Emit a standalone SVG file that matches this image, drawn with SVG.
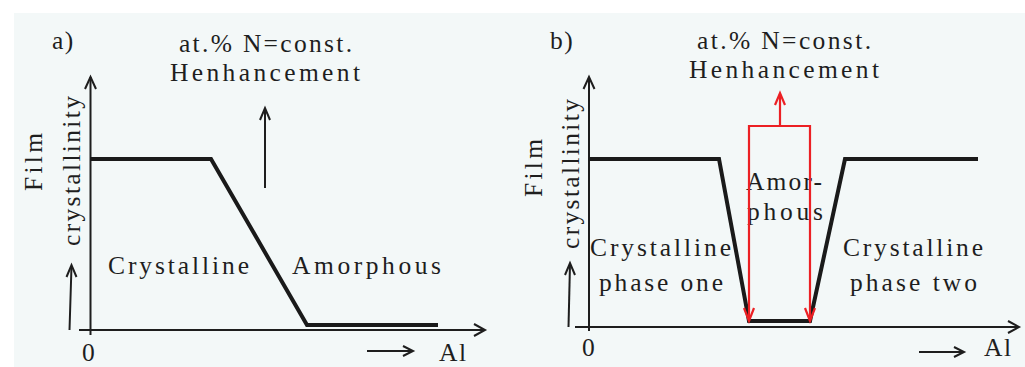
<svg xmlns="http://www.w3.org/2000/svg" width="1025" height="367" viewBox="0 0 1025 367">
<style>
text{font-family:'Liberation Serif','DejaVu Serif',serif;font-size:25.5px;fill:#1e1e1e}
.sp{letter-spacing:1.5px}
.ax{stroke:#1e1e1e;stroke-width:2;fill:none}
.cv{stroke:#1a1a1a;stroke-width:4;fill:none;stroke-linejoin:miter}
.rd{stroke:#ec2024;stroke-width:2.2;fill:none}
.hd{stroke:#1e1e1e;stroke-width:2;fill:none}
</style>
<rect x="0" y="0" width="1025" height="367" fill="#ffffff"/>
<rect x="14" y="13" width="1011" height="354" fill="#f3f8f8"/>

<g id="panel-a">
  <g id="a-label"><text class="sp" x="52" y="49">a)</text></g>
  <g id="a-title"><text x="179" y="52" textLength="173" lengthAdjust="spacing">at.% N=const.</text><text x="170" y="81" textLength="190" lengthAdjust="spacing">Henhancement</text></g>
  <g id="a-ylabel">
    <text transform="translate(42,162) rotate(-90)" text-anchor="middle" textLength="58" lengthAdjust="spacing">Film</text>
    <text transform="translate(80,171) rotate(-90)" text-anchor="middle" textLength="150" lengthAdjust="spacing">crystallinity</text>
  </g>
  <g id="a-crystalline"><text x="108" y="274" textLength="141" lengthAdjust="spacing">Crystalline</text></g>
  <g id="a-amorphous"><text x="292" y="274" textLength="149" lengthAdjust="spacing">Amorphous</text></g>
  <g id="a-zero"><text x="82" y="361">0</text></g>
  <g id="a-al"><text class="sp" x="439" y="361">Al</text></g>
</g>

<g id="panel-b">
  <g id="b-label"><text class="sp" x="550" y="49">b)</text></g>
  <g id="b-title"><text x="697" y="49" textLength="174" lengthAdjust="spacing">at.% N=const.</text><text x="689" y="78" textLength="190" lengthAdjust="spacing">Henhancement</text></g>
  <g id="b-ylabel">
    <text transform="translate(542,168) rotate(-90)" text-anchor="middle" textLength="58" lengthAdjust="spacing">Film</text>
    <text transform="translate(579,174) rotate(-90)" text-anchor="middle" textLength="150" lengthAdjust="spacing">crystallinity</text>
  </g>
  <g id="b-amorphous"><text x="746" y="190" textLength="76" lengthAdjust="spacing">Amor-</text><text x="747" y="220" textLength="76" lengthAdjust="spacing">phous</text></g>
  <g id="b-cryst-one"><text x="590" y="256" textLength="141" lengthAdjust="spacing">Crystalline</text><text x="599" y="291" textLength="124" lengthAdjust="spacing">phase one</text></g>
  <g id="b-cryst-two"><text x="843" y="256" textLength="140" lengthAdjust="spacing">Crystalline</text><text x="850" y="291" textLength="127" lengthAdjust="spacing">phase two</text></g>
  <g id="b-zero"><text x="582" y="356">0</text></g>
  <g id="b-al"><text class="sp" x="984" y="356">Al</text></g>
</g>

<g id="connectors">
  <path class="ax" d="M90.5 335 V77"/>
  <path class="hd" d="M85 89 L90.5 77 L96 89"/>
  <path class="ax" d="M79 330 H485"/>
  <path class="hd" d="M474 324 L485 330 L474 336"/>
  <path class="cv" d="M90 159 H211 L307 325 H438"/>
  <path class="ax" d="M265 188 V109"/>
  <path class="hd" d="M260 120 L265 108 L270 120"/>
  <path class="ax" d="M69.5 330 L71.5 266"/>
  <path class="hd" d="M66.5 277 L71.5 265 L76.5 277"/>
  <path class="ax" d="M367 351 H413"/>
  <path class="hd" d="M403 346 L413 351 L403 356"/>

  <path class="ax" d="M589 331 V77"/>
  <path class="hd" d="M583.5 89 L589 77 L594.5 89"/>
  <path class="ax" d="M575 327 H1019"/>
  <path class="hd" d="M1008 321 L1019 327 L1008 333"/>
  <path class="cv" d="M589 159 H719 L749 321 H810 L845 159 H978"/>
  <path class="ax" d="M568.5 327 L570 264"/>
  <path class="hd" d="M565 275 L570 263 L575 275"/>
  <path class="ax" d="M919 352 H964"/>
  <path class="hd" d="M954 347 L964 352 L954 357"/>

  <path class="rd" d="M749 321 V126 H810 V321"/>
  <path class="rd" d="M744 308 L749 321 L754 308"/>
  <path class="rd" d="M805 308 L810 321 L815 308"/>
  <path class="rd" d="M780 126 V94"/>
  <path class="rd" d="M775 105 L780 93 L785 105"/>
</g>
</svg>
